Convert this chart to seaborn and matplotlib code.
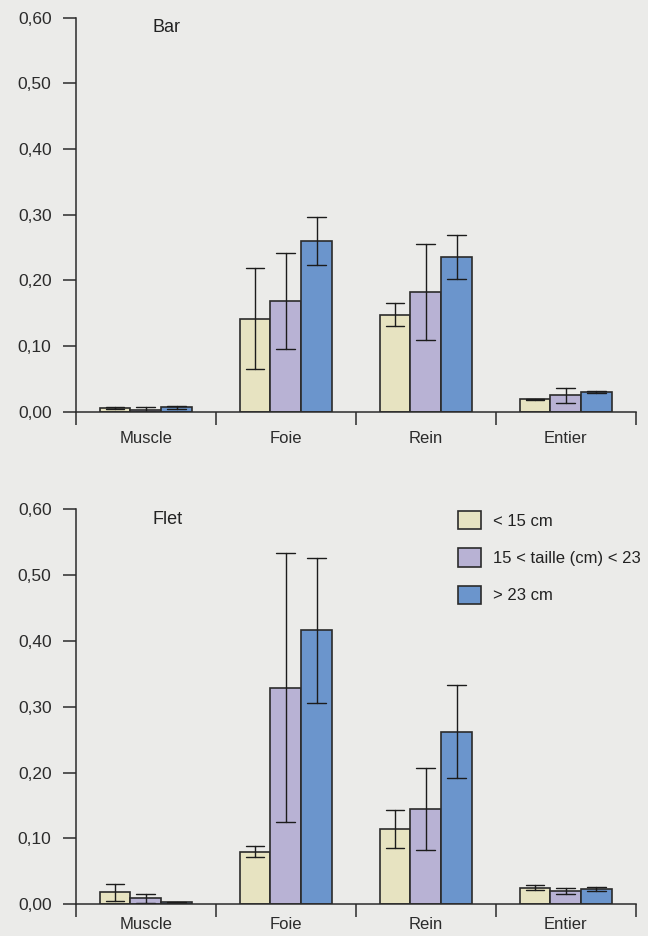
import matplotlib
matplotlib.use("Agg")
import matplotlib.pyplot as plt
import numpy as np
import pandas as pd
import seaborn as sns
from matplotlib.ticker import FixedLocator, NullFormatter

# ---------------- data ----------------
categories = ["Muscle", "Foie", "Rein", "Entier"]
sizes = ["< 15 cm", "15 < taille (cm) < 23", "> 23 cm"]

bar_mean_small = [0.006, 0.142, 0.148, 0.019]
bar_mean_mid = [0.0035, 0.169, 0.182, 0.025]
bar_mean_large = [0.007, 0.260, 0.236, 0.030]
bar_err_small = [0.001, 0.077, 0.018, 0.001]
bar_err_mid = [0.004, 0.073, 0.073, 0.012]
bar_err_large = [0.002, 0.036, 0.033, 0.001]

flet_mean_small = [0.018, 0.080, 0.114, 0.025]
flet_mean_mid = [0.009, 0.329, 0.145, 0.020]
flet_mean_large = [0.003, 0.416, 0.262, 0.023]
flet_err_small = [0.013, 0.008, 0.029, 0.004]
flet_err_mid = [0.007, 0.204, 0.062, 0.005]
flet_err_large = [0.001, 0.110, 0.071, 0.003]

ytick_values = [0.0, 0.1, 0.2, 0.3, 0.4, 0.5, 0.6]
ytick_labels = ["0,00", "0,10", "0,20", "0,30", "0,40", "0,50", "0,60"]
panel_titles = ["Bar", "Flet"]

colors = ["#e7e3c1", "#b8b2d4", "#6b95cc"]
bg = "#ebebe9"
ink = "#2b2b2b"


def build_frame(means, errs):
    rows = []
    for s, m_list, e_list in zip(sizes, means, errs):
        for c, m, e in zip(categories, m_list, e_list):
            rows.append({"cat": c, "size": s, "val": m - e})
            rows.append({"cat": c, "size": s, "val": m + e})
    return pd.DataFrame(rows)


df_bar = build_frame([bar_mean_small, bar_mean_mid, bar_mean_large],
                     [bar_err_small, bar_err_mid, bar_err_large])
df_flet = build_frame([flet_mean_small, flet_mean_mid, flet_mean_large],
                      [flet_err_small, flet_err_mid, flet_err_large])

# ---------------- style ----------------
sns.set_style("ticks")
plt.rcParams["font.family"] = ["Liberation Sans Narrow", "Liberation Sans", "DejaVu Sans"]
plt.rcParams["axes.edgecolor"] = ink
plt.rcParams["xtick.color"] = ink
plt.rcParams["ytick.color"] = ink
plt.rcParams["text.color"] = "#222222"

fig = plt.figure(figsize=(6.48, 9.36), dpi=100, facecolor=bg)
ax_top = fig.add_axes([0.117, 0.560, 0.864, 0.421])
ax_bot = fig.add_axes([0.117, 0.034, 0.864, 0.422])

for ax, df, title, xpad in [(ax_top, df_bar, panel_titles[0], 14),
                            (ax_bot, df_flet, panel_titles[1], 9)]:
    ax.set_facecolor(bg)
    sns.barplot(data=df, x="cat", y="val", hue="size", order=categories,
                hue_order=sizes, palette=colors, estimator="mean",
                errorbar=("pi", 100), capsize=0.4, width=0.66,
                edgecolor=ink, linewidth=1.2, saturation=1,
                err_kws={"color": "#1c1c1c", "linewidth": 1.0},
                legend=(ax is ax_bot), ax=ax)
    ax.set_xlim(-0.5, 3.5)
    ax.set_ylim(0, 0.6)
    ax.set_yticks(ytick_values)
    ax.set_yticklabels(ytick_labels, fontsize=12.5)
    ax.set_xlabel("")
    ax.set_ylabel("")
    ax.set_xticks(range(len(categories)))
    ax.set_xticklabels(categories, fontsize=12)
    ax.xaxis.set_minor_locator(FixedLocator([-0.5, 0.5, 1.5, 2.5, 3.5]))
    ax.xaxis.set_minor_formatter(NullFormatter())
    ax.tick_params(axis="x", which="major", length=0, pad=xpad)
    ax.tick_params(axis="x", which="minor", length=9.5, width=1.1, direction="out")
    ax.tick_params(axis="y", length=9.5, width=1.1, direction="out", pad=8)
    for side in ["top", "right"]:
        ax.spines[side].set_visible(False)
    for side in ["left", "bottom"]:
        ax.spines[side].set_linewidth(1.1)
    ax.text(0.1375, 0.975, title, transform=ax.transAxes, fontsize=13,
            ha="left", va="center")

handles, labels = ax_bot.get_legend_handles_labels()
ax_bot.legend(handles, labels, loc="upper left", frameon=False,
              bbox_to_anchor=(458 / 648, 1 - 511 / 936),
              bbox_transform=fig.transFigure, fontsize=12,
              handlelength=1.4, handleheight=1.3, handletextpad=0.7,
              labelspacing=1.15, borderpad=0, borderaxespad=0)

fig.savefig("out.png", dpi=100, facecolor=bg)
